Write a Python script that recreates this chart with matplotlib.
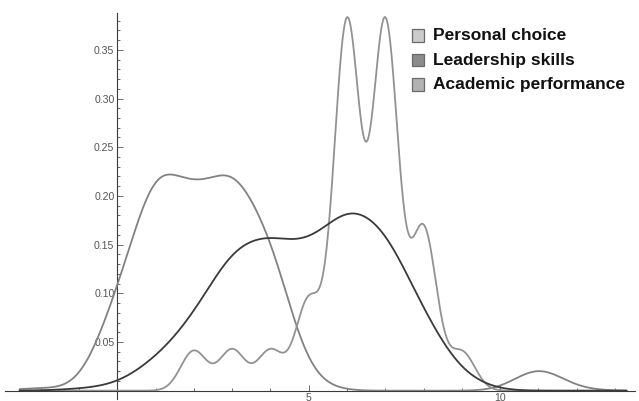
import numpy as np
import matplotlib
matplotlib.use("Agg")
import matplotlib.pyplot as plt
from matplotlib.patches import Rectangle
from matplotlib.ticker import MultipleLocator, FixedLocator, FormatStrFormatter

# Series: scores with relative weights, smoothing bandwidth
series_names = ["Personal choice", "Leadership skills", "Academic performance"]

personal_scores = [2, 3, 4, 5, 6, 7, 8, 9]
personal_weights = [0.0348, 0.0358, 0.0352, 0.0786, 0.3215, 0.3208, 0.1408, 0.0336]
personal_bw = 0.34

leadership_scores = [-1, 0, 1, 2, 3, 4, 5, 6, 7, 8, 9]
leadership_weights = [0.0021, 0.0053, 0.0330, 0.0752, 0.1534, 0.1625, 0.1446, 0.1980, 0.1731, 0.0802, 0.0137]
leadership_bw = 0.68

academic_scores = [-2, 0, 1, 2, 3, 4, 5, 11, 12]
academic_weights = [0.0037, 0.1001, 0.2476, 0.2037, 0.2379, 0.1655, 0.0084, 0.0307, 0.0018]
academic_bw = 0.62

line_colors = ["#929292", "#3a3a3a", "#828282"]
swatch_colors = ["#cbcbcb", "#8b8b8b", "#b2b2b2"]

y_major = [0.05, 0.10, 0.15, 0.20, 0.25, 0.30, 0.35]
x_major = [5, 10]


def smooth_density(grid, scores, weights, bw):
    g = np.asarray(grid)[:, None]
    s = np.asarray(scores, dtype=float)[None, :]
    k = np.exp(-0.5 * ((g - s) / bw) ** 2) / (bw * np.sqrt(2 * np.pi))
    return k @ np.asarray(weights)


W, H = 639, 401
fig = plt.figure(figsize=(W / 100, H / 100), dpi=100)
x0, x1 = 5, 635
ytop, ybot = 13.3, 390.7
ax = fig.add_axes([x0 / W, (H - ybot) / H, (x1 - x0) / W, (ybot - ytop) / H])
ax.set_facecolor("none")

grid = np.linspace(-2.55, 13.3, 1200)
data = [
    (personal_scores, personal_weights, personal_bw),
    (leadership_scores, leadership_weights, leadership_bw),
    (academic_scores, academic_weights, academic_bw),
]
order = [2, 0, 1]
for i in order:
    sc, wt, bw = data[i]
    ax.plot(grid, smooth_density(grid, sc, wt, bw), color=line_colors[i],
            lw=1.3, solid_capstyle="round", zorder=3)

ax.set_xlim(-2.93, 13.52)
ax.set_ylim(0, 0.3875)

for s in ["top", "right"]:
    ax.spines[s].set_visible(False)
ax.spines["left"].set_position(("data", 0))
ax.spines["left"].set_bounds(-0.009, 0.3875)
for s in ["left", "bottom"]:
    ax.spines[s].set_color("#3a3a3a")
    ax.spines[s].set_linewidth(0.8)

ax.yaxis.set_major_locator(FixedLocator(y_major))
ax.yaxis.set_minor_locator(MultipleLocator(0.01))
ax.yaxis.set_major_formatter(FormatStrFormatter("%.2f"))
ax.xaxis.set_major_locator(FixedLocator(x_major))
ax.xaxis.set_minor_locator(FixedLocator([-2, -1, 1, 2, 3, 4, 6, 7, 8, 9, 11, 12, 13]))

ax.tick_params(axis="both", which="both", direction="in", color="#555555", width=0.6)
ax.tick_params(axis="both", which="major", length=4, labelsize=7.6, labelcolor="#555555", pad=2)
ax.tick_params(axis="both", which="minor", length=2.2)
for lab in ax.get_xticklabels() + ax.get_yticklabels():
    lab.set_fontfamily("Liberation Sans")

# legend
rows_y = [35.5, 60.0, 84.5]
for i, name in enumerate(series_names):
    cy = rows_y[i]
    fig.patches.append(Rectangle((412 / W, (H - cy - 6) / H), 12 / W, 12 / H,
                                 transform=fig.transFigure, facecolor=swatch_colors[i],
                                 edgecolor="#6a6a6a", linewidth=0.9))
    fig.text(433 / W, (H - cy) / H, name, fontsize=12.5, fontweight="bold",
             family="Liberation Sans", color="#111111", va="center", ha="left")

fig.savefig("out.png", dpi=100)
